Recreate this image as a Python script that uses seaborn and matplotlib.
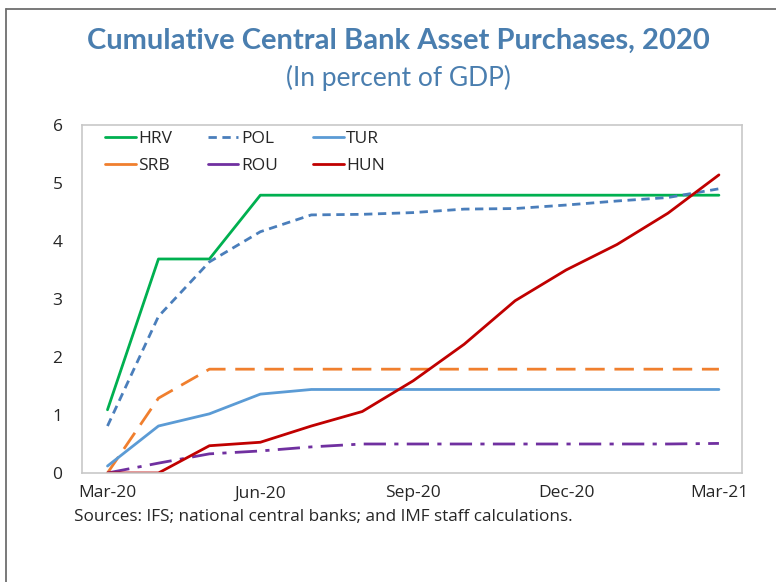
import matplotlib
matplotlib.use("Agg")
import matplotlib.pyplot as plt
from matplotlib.lines import Line2D
import seaborn as sns
import numpy as np
import pandas as pd

# monthly observations, Mar-20 .. Mar-21
months = ["Mar-20", "Apr-20", "May-20", "Jun-20", "Jul-20", "Aug-20", "Sep-20",
          "Oct-20", "Nov-20", "Dec-20", "Jan-21", "Feb-21", "Mar-21"]
hrv = [1.09, 3.69, 3.69, 4.79, 4.79, 4.79, 4.79, 4.79, 4.79, 4.79, 4.79, 4.79, 4.79]
pol = [0.81, 2.70, 3.64, 4.16, 4.45, 4.46, 4.49, 4.55, 4.56, 4.62, 4.69, 4.75, 4.90]
tur = [0.12, 0.81, 1.02, 1.36, 1.44, 1.44, 1.44, 1.44, 1.44, 1.44, 1.44, 1.44, 1.44]
srb = [0.00, 1.29, 1.79, 1.79, 1.79, 1.79, 1.79, 1.79, 1.79, 1.79, 1.79, 1.79, 1.79]
rou = [0.00, 0.17, 0.33, 0.38, 0.45, 0.50, 0.50, 0.50, 0.50, 0.50, 0.50, 0.50, 0.51]
hun = [0.00, 0.00, 0.47, 0.53, 0.81, 1.06, 1.59, 2.22, 2.97, 3.50, 3.94, 4.48, 5.14]

tick_labels = ["Mar-20", "Jun-20", "Sep-20", "Dec-20", "Mar-21"]

sns.set_style("white")
plt.rcParams['font.family'] = ['Open Sans', 'DejaVu Sans']

fig = plt.figure(figsize=(7.76, 5.82), dpi=100)
ax = fig.add_axes([0.1057, 0.1873, 0.8503, 0.5979])

x = np.arange(len(months))
df = pd.DataFrame({"x": x, "HRV": hrv, "POL": pol, "TUR": tur,
                   "SRB": srb, "ROU": rou, "HUN": hun})

# order so that ncol=3 legend reads HRV POL TUR / SRB ROU HUN
styles = [
    ("HRV", "#00B050", "-"),
    ("SRB", "#F07F2E", (0, (7, 3.5))),
    ("POL", "#4A7EBB", (0, (3, 2))),
    ("ROU", "#7030A0", (0, (8, 3, 1.5, 3))),
    ("TUR", "#5B9BD5", "-"),
    ("HUN", "#C00000", "-"),
]
for name, col, ls in styles:
    sns.lineplot(data=df, x="x", y=name, ax=ax, color=col, linewidth=2,
                 linestyle=ls, label=name)

ax.set_xlim(-0.5, 12.45)
ax.set_ylim(0, 6)
ax.set_yticks(range(0, 7))
ax.set_xticks([0, 3, 6, 9, 12])
ax.set_xticklabels(tick_labels)
ax.set_xticks([2.5, 5.5, 8.5, 11.5], minor=True)
ax.set_xlabel("")
ax.set_ylabel("")
ax.tick_params(axis="x", which="major", length=0, pad=9, labelsize=12.5)
ax.tick_params(axis="x", which="minor", length=5, direction="in", color="#BFBFBF", width=1)
ax.tick_params(axis="y", length=5, direction="in", color="#BFBFBF", labelsize=12.5, pad=14)
for s in ax.spines.values():
    s.set_color("#C8C8C8")
    s.set_linewidth(1.2)

leg = ax.legend(ncol=3, loc="upper left", frameon=False, fontsize=12.5,
                handlelength=1.75, handletextpad=0.15, columnspacing=2.05,
                labelspacing=0.6, borderaxespad=0.1, bbox_to_anchor=(0.022, 1.008))
for h in leg.get_lines():
    if h.get_label() != "POL":
        h.set_linestyle("-")

fig.text(0.513, 0.930, "Cumulative Central Bank Asset Purchases, 2020",
         ha="center", va="center", fontsize=21, fontweight="bold",
         color="#4A7EAF", family=["Lato", "DejaVu Sans"])
fig.text(0.513, 0.866, "(In percent of GDP)", ha="center", va="center",
         fontsize=19, color="#4A7EAF", family=["Lato", "DejaVu Sans"])
fig.text(0.095, 0.111, "Sources: IFS; national central banks; and IMF staff calculations.",
         ha="left", va="center", fontsize=12.3)

# frame around the figure (left and top edges visible)
fig.add_artist(Line2D([0.0077, 0.0077], [0, 0.9845], color="#6E6E6E", lw=1.3))
fig.add_artist(Line2D([0.0077, 1.0], [0.9845, 0.9845], color="#6E6E6E", lw=1.3))

fig.savefig("out.png", dpi=100)
